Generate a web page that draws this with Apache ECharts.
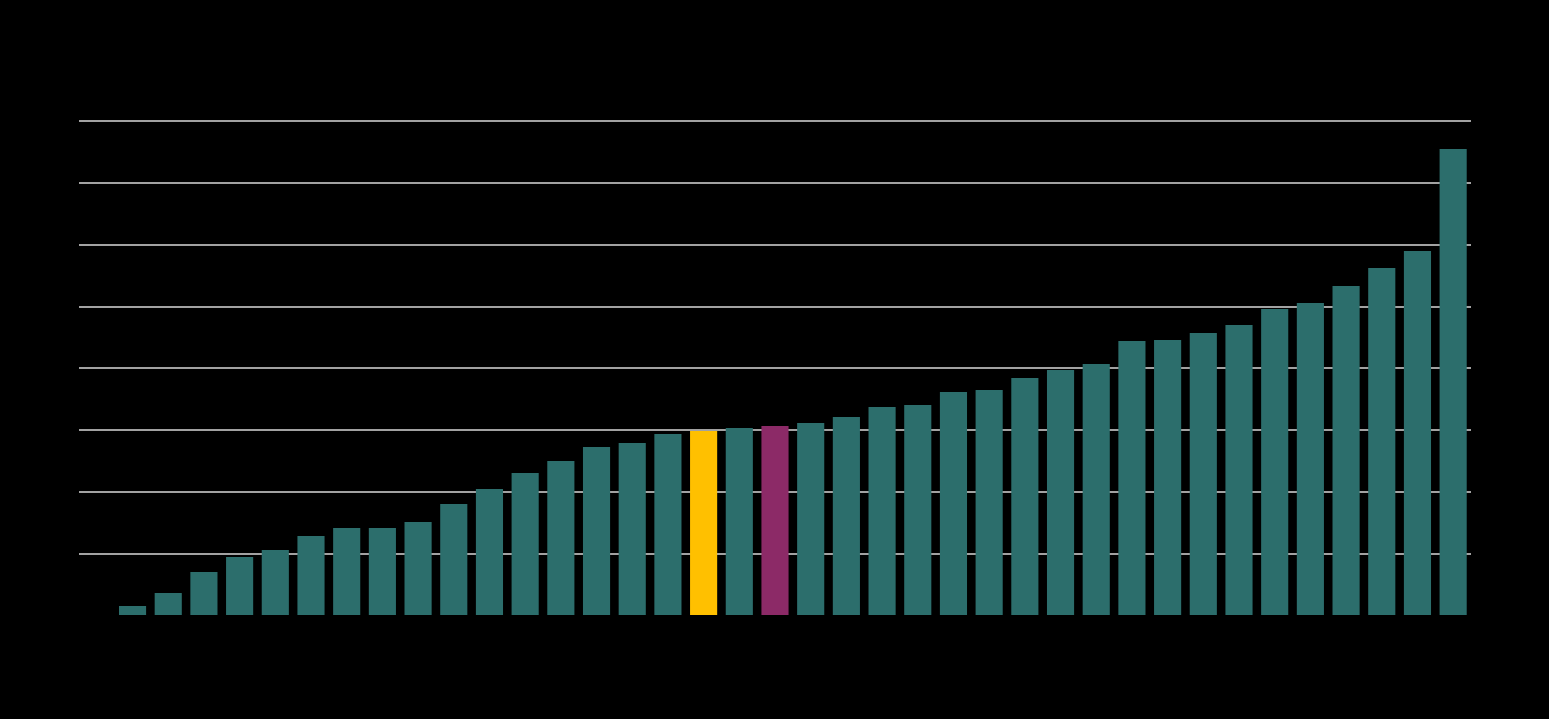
<!DOCTYPE html>
<html>
<head>
<meta charset="utf-8">
<script src="https://cdn.jsdelivr.net/npm/echarts@6/dist/echarts.min.js"></script>
<style>html,body{margin:0;padding:0;background:#000;}#c{width:1549px;height:719px;}</style>
</head>
<body>
<div id="c"></div>
<script>
const categories = ['', 'C1','C2','C3','C4','C5','C6','C7','C8','C9','C10','C11','C12','C13','C14','C15','C16','C17','C18','C19','C20','C21','C22','C23','C24','C25','C26','C27','C28','C29','C30','C31','C32','C33','C34','C35','C36','C37','C38'];
const values = [null, 0.73, 1.78, 3.48, 4.70, 5.26, 6.40, 7.04, 7.04, 7.53, 8.99, 10.20, 11.50, 12.47, 13.60, 13.93, 14.66, 14.90, 15.14, 15.30, 15.55, 16.03, 16.84, 17.00, 18.06, 18.22, 19.19, 19.84, 20.32, 22.19, 22.27, 22.83, 23.48, 24.78, 25.26, 26.64, 28.10, 29.47, 37.73];
const highlightYellow = 17;
const highlightPurple = 19;
const yTicks = [0, 5, 10, 15, 20, 25, 30, 35, 40];

const chart = echarts.init(document.getElementById('c'));
chart.setOption({
  backgroundColor: '#000000',
  animation: false,
  grid: { left: 79, right: 78, top: 121, bottom: 104, containLabel: false },
  xAxis: {
    type: 'category',
    data: categories,
    axisLine: { show: false },
    axisTick: { show: false },
    axisLabel: { show: false }
  },
  yAxis: {
    type: 'value',
    min: yTicks[0],
    max: yTicks[yTicks.length - 1],
    interval: 5,
    axisLine: { show: false },
    axisTick: { show: false },
    axisLabel: { color: '#000000', fontSize: 12 },
    splitLine: { showMinLine: false, lineStyle: { color: '#d9d9d9', width: 1.5 } }
  },
  series: [{
    type: 'bar',
    barCategoryGap: '24%',
    data: values.map((v, i) => ({
      value: v,
      itemStyle: { color: i === highlightYellow ? '#ffc000' : (i === highlightPurple ? '#8c2a67' : '#2c6e6c') }
    }))
  }]
});
</script>
</body>
</html>
